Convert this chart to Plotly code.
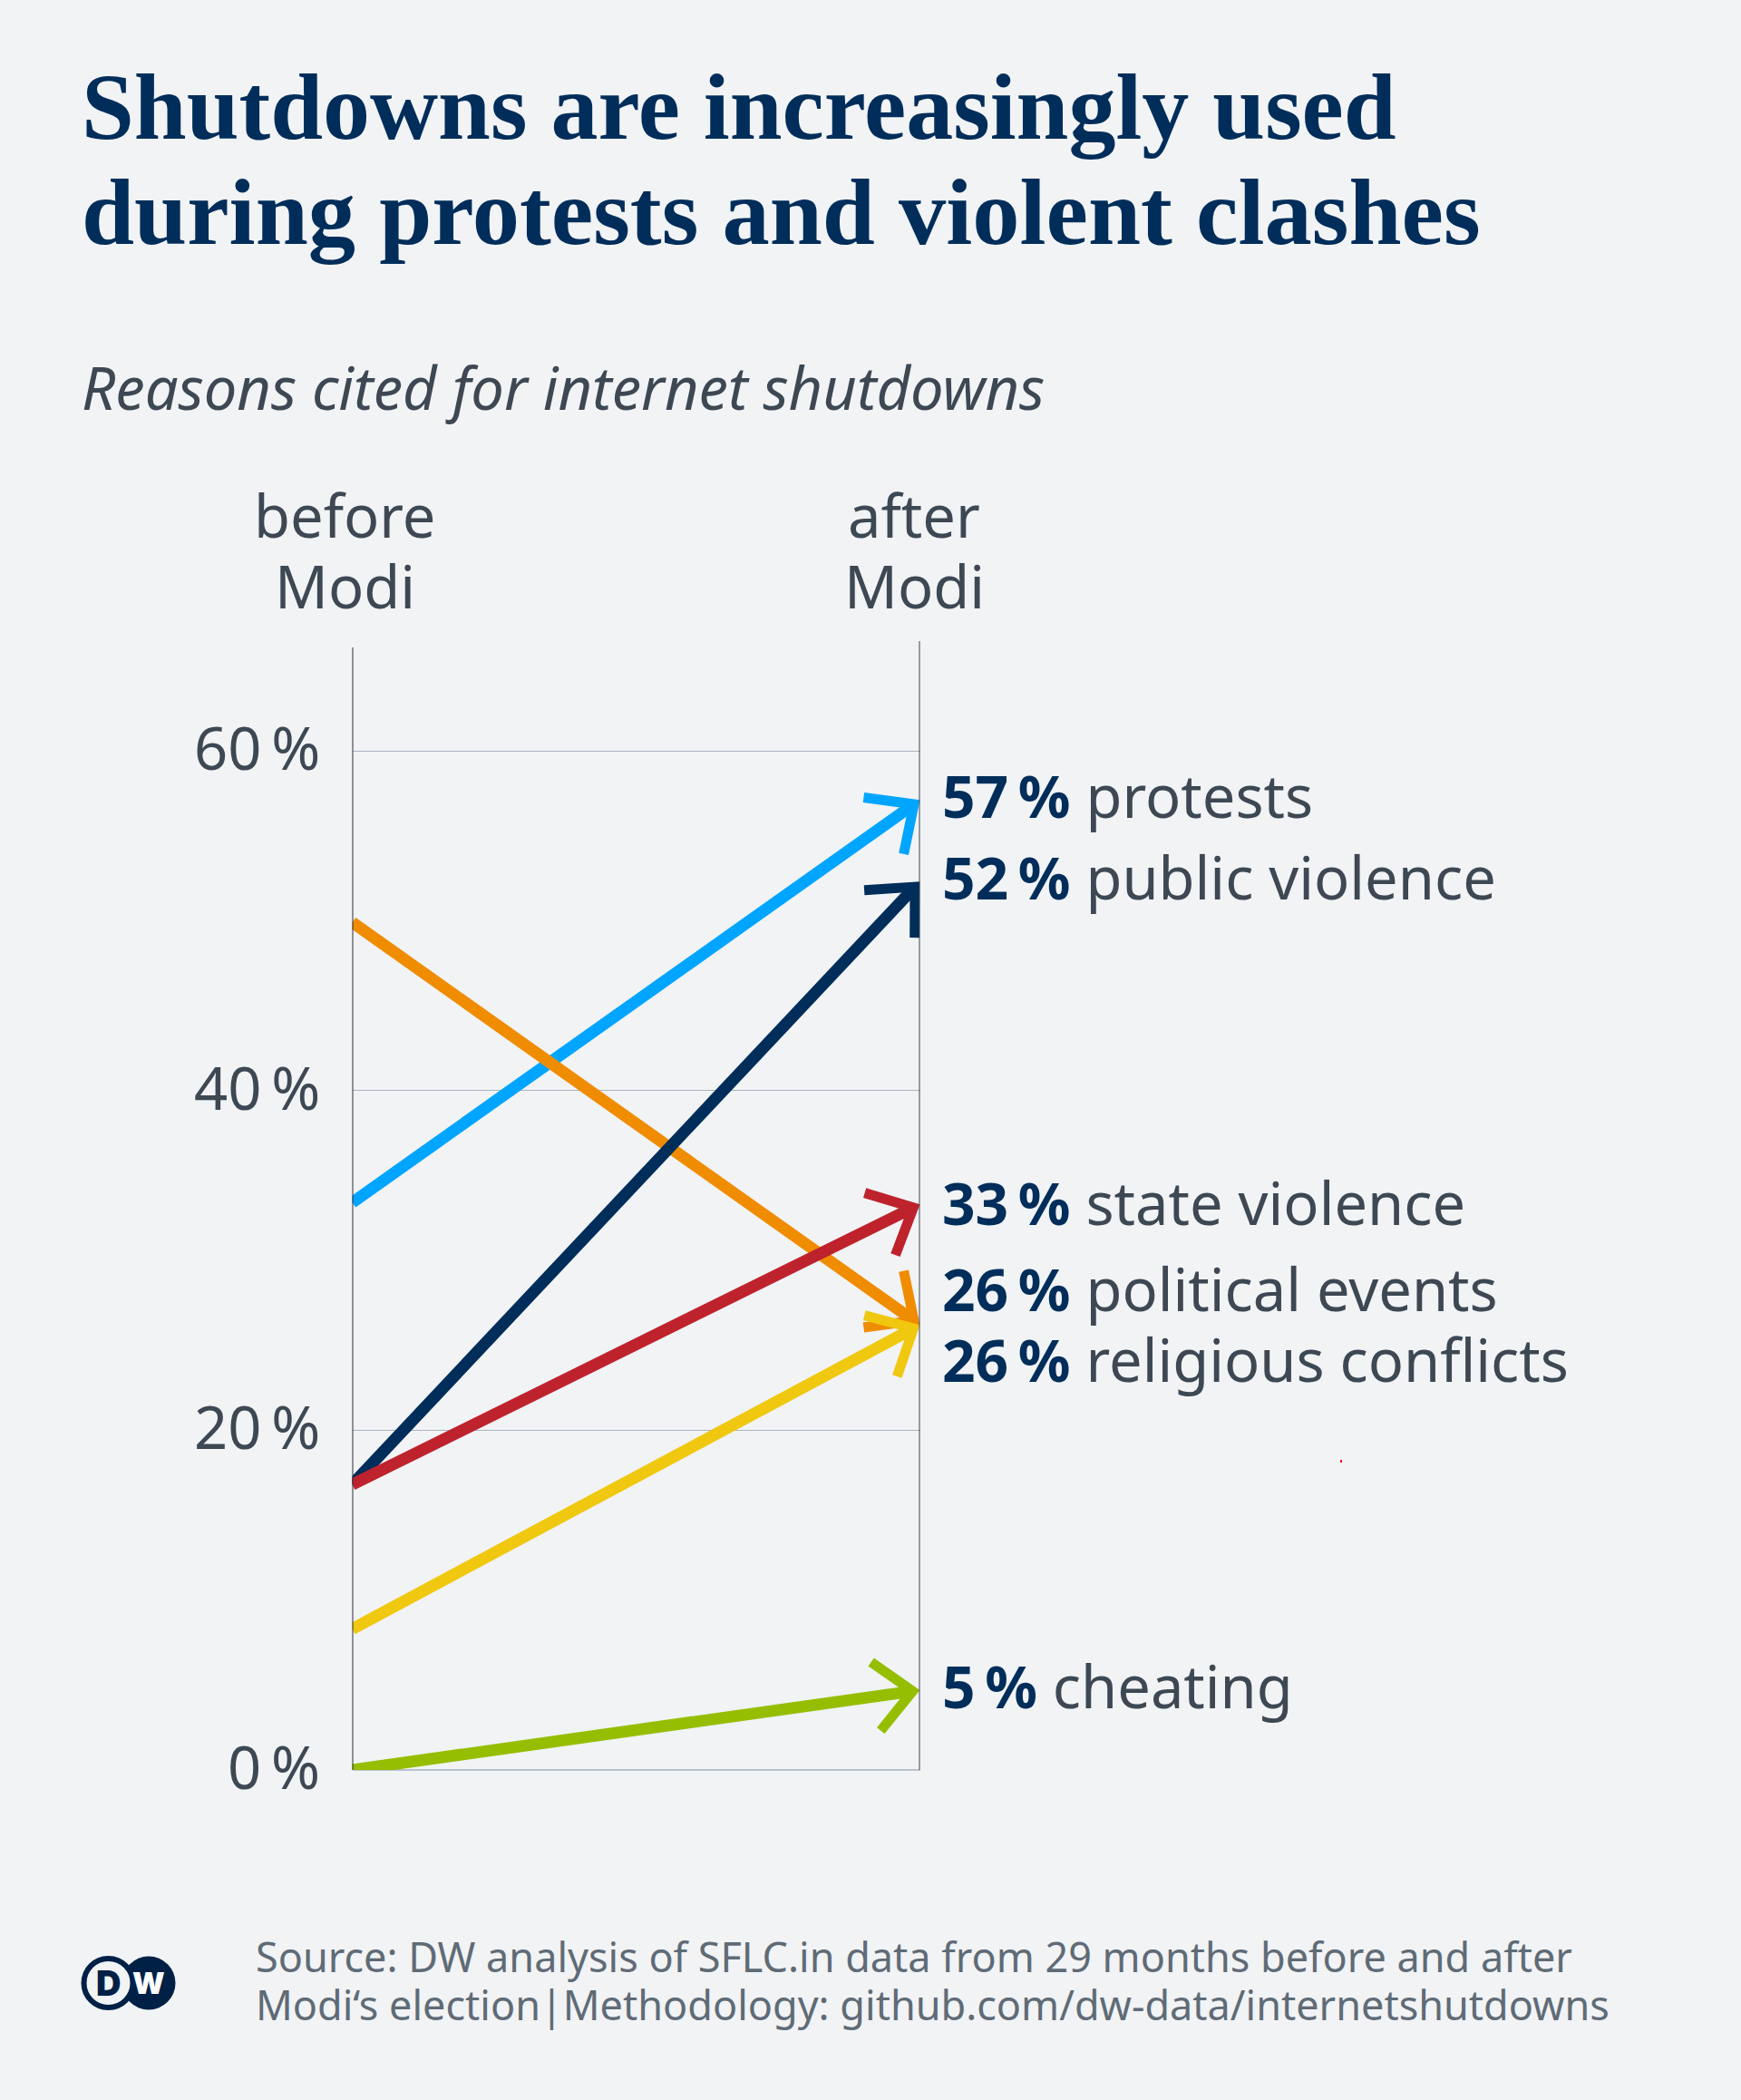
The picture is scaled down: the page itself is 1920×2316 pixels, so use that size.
import math
import plotly.graph_objects as go

# ---- data ----
periods = [0, 1]
period_line1 = ["before", "after"]
period_line2 = ["Modi", "Modi"]
reasons = ["protests", "political events", "public violence", "state violence", "religious conflicts", "cheating"]
before = [33.4, 49.9, 16.8, 16.8, 8.3, 0.0]
after = [57.1, 26.2, 52.3, 33.3, 26.2, 4.7]
after_labels = ["57", "26", "52", "33", "26", "5"]
colors = ["#00a5ff", "#f08c00", "#002d5a", "#be232d", "#f0c80f", "#96be00"]
label_pixel_y = [877, 1421, 967, 1326, 1499, 1859]
y_ticks = [0, 20, 40, 60]

W, H = 1920, 2316
X0, X1 = 388.5, 1014.5
Y0, Y60 = 1952.0, 828.0
TOP = 707.0
PX_PER_Y = (Y0 - Y60) / 60
Y_MAX = (Y0 - TOP) / PX_PER_Y
PX_PER_X = X1 - X0
BG = "#f1f3f5"
NAVY = "#002d5a"
TXT = "#3d4853"
SRC = "#5f6b76"
FONT = "Noto Sans"
THIN = "\u2009"


def px(v):
    return v / W


def py(v):
    return 1 - v / H


fig = go.Figure()

HEAD = 56
ANG = math.radians(43)
BARB_W = 11
MITER = BARB_W / 2 / math.sin(ANG)
for name, b, a, c in zip(reasons, before, after, colors):
    dx, dy = PX_PER_X, (a - b) * PX_PER_Y
    th = math.atan2(dy, dx)
    vx = 1 - MITER * math.cos(th) / PX_PER_X
    vy = a - MITER * math.sin(th) / PX_PER_Y
    fig.add_trace(go.Scatter(x=[periods[0], vx], y=[b, vy], mode="lines", name=name,
                             line=dict(color=c, width=13), hoverinfo="skip"))
    hx, hy = [], []
    for s in (1, -1):
        hx.append(vx - HEAD * math.cos(th + s * ANG) / PX_PER_X)
        hy.append(vy - HEAD * math.sin(th + s * ANG) / PX_PER_Y)
    fig.add_trace(go.Scatter(x=[hx[0], vx, hx[1]], y=[hy[0], vy, hy[1]], mode="lines",
                             line=dict(color=c, width=BARB_W), hoverinfo="skip", showlegend=False))

shapes = [
    dict(type="line", xref="x", yref="y", x0=0, x1=0, y0=0, y1=(Y0 - 714) / PX_PER_Y,
         line=dict(color="#2a3038", width=2), layer="above"),
    dict(type="line", xref="x", yref="y", x0=1, x1=1, y0=0, y1=Y_MAX,
         line=dict(color="#3a444e", width=2), layer="above"),
    # tiny red speck present in the reference
    dict(type="rect", xref="paper", yref="paper", x0=px(1478), x1=px(1480), y0=py(1613), y1=py(1610),
         fillcolor="#f01020", line=dict(width=0)),
]
LOGO = "#002046"
shapes += [
    dict(type="circle", xref="paper", yref="paper", x0=px(134.5), x1=px(193.5), y0=py(2216.5), y1=py(2157.5),
         fillcolor=LOGO, line=dict(width=0)),
    dict(type="circle", xref="paper", yref="paper", x0=px(92.5), x1=px(146.5), y0=py(2214), y1=py(2160),
         fillcolor=BG, line=dict(color=LOGO, width=6)),
]

ann = []


def text(x, y, s, size, color=TXT, family=FONT, xanchor="left", yanchor="middle", align="left", weight="normal"):
    ann.append(dict(x=x, y=y, xref="paper", yref="paper", text=s, showarrow=False, xanchor=xanchor, yanchor=yanchor,
                    align=align, font=dict(size=size, color=color, family=family, weight=weight),
                    borderpad=0, borderwidth=0))


# title, subtitle
text(px(90), py(118), "<b>Shutdowns are increasingly used</b>", 104, NAVY, "Liberation Serif")
text(px(90), py(234), "<b>during protests and violent clashes</b>", 104.5, NAVY, "Liberation Serif")
text(px(90), py(427), "<i>Reasons cited for internet shutdowns</i>", 65)

# column heads
for xp, l1, l2 in zip([380, 1008], period_line1, period_line2):
    text(px(xp), py(568), l1, 65, xanchor="center", align="center")
    text(px(xp), py(646), l2, 65, xanchor="center", align="center")

# y tick labels
for t in y_ticks:
    text(px(353), py(Y0 - t * PX_PER_Y - 4), f"{t}{THIN}%", 65, xanchor="right")

# direct labels
for n, v, yp in zip(reasons, after_labels, label_pixel_y):
    s = f"<b><span style='color:{NAVY};font-size:64px'>{v}{THIN}%</span></b> {n}"
    text(px(1038.5), py(yp), s, 65)

# source
text(px(282), py(2157), "Source: DW analysis of SFLC.in data from 29 months before and after", 45, SRC)
text(px(282), py(2210.5), "Modi\u2018s election|Methodology: github.com/dw-data/internetshutdowns", 45, SRC)

# logo letters
text(px(119), py(2187), "D", 38, LOGO, "Inter", xanchor="center", weight=900)
text(px(164), py(2187), "W", 33, "#ffffff", "Inter", xanchor="center", weight=900)

fig.update_layout(
    width=W, height=H, autosize=False, margin=dict(l=0, r=0, t=0, b=0),
    paper_bgcolor=BG, plot_bgcolor=BG, showlegend=False,
    xaxis=dict(domain=[px(X0), px(X1)], range=[0, 1], showgrid=False, zeroline=False, showticklabels=False,
               showline=False, fixedrange=True),
    yaxis=dict(domain=[py(Y0), py(TOP)], range=[0, Y_MAX], tickvals=y_ticks, showticklabels=False,
               gridcolor="#aab4c0", gridwidth=1, zeroline=True, zerolinecolor="#b8c2cc", zerolinewidth=2,
               showline=False, fixedrange=True),
    shapes=shapes, annotations=ann,
)
fig.write_html(
    "out.html",
    config={"displayModeBar": False},
    default_width="1920px",
    default_height="2316px",
    post_script="document.body.style.margin='0';document.documentElement.style.overflow='hidden';",
)
